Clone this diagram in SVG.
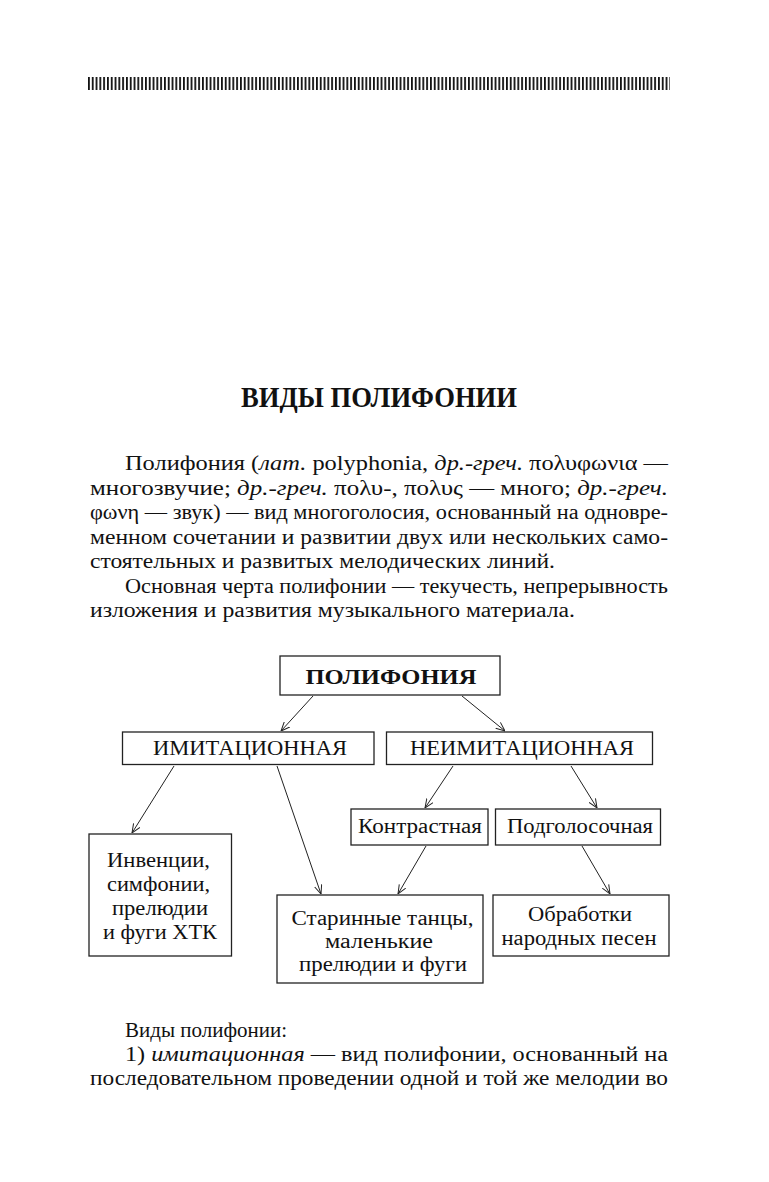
<svg xmlns="http://www.w3.org/2000/svg" width="769" height="1182" viewBox="0 0 769 1182">
<defs>
<pattern id="bars" x="88" y="0" width="3.8" height="20" patternUnits="userSpaceOnUse">
<rect x="0" y="0" width="1.8" height="20" fill="#111"/>
</pattern>
<marker id="arr" viewBox="0 0 10 10" refX="10" refY="5" markerWidth="9" markerHeight="9" markerUnits="userSpaceOnUse" orient="auto">
<path d="M0,0.8 L10,5 L0,9.2" fill="none" stroke="#222" stroke-width="1.1"/>
</marker>
</defs>
<style>
.t{font-family:"Liberation Serif","DejaVu Serif",serif;font-size:20.5px;fill:#111}
.i{font-style:italic}
.box{fill:#fff;stroke:#222;stroke-width:1.3}
.lbl{font-family:"Liberation Serif","DejaVu Serif",serif;font-size:20.5px;fill:#111;text-anchor:middle}
.c line{stroke:#222;stroke-width:1;marker-end:url(#arr)}
</style>
<rect width="769" height="1182" fill="#fff"/>
<rect x="88" y="77" width="582" height="13" fill="url(#bars)"/>

<text x="241" y="407" font-family="'Liberation Serif',serif" font-weight="bold" font-size="29" fill="#111" textLength="276" lengthAdjust="spacingAndGlyphs">ВИДЫ ПОЛИФОНИИ</text>

<g id="intro">
<text class="t" x="125" y="470" textLength="543" lengthAdjust="spacingAndGlyphs">Полифония (<tspan class="i">лат.</tspan> polyphonia, <tspan class="i">др.-греч.</tspan> πολυφωνια —</text>
<text class="t" x="90" y="494.5" textLength="578" lengthAdjust="spacingAndGlyphs">многозвучие; <tspan class="i">др.-греч.</tspan> πολυ-, πολυς — много; <tspan class="i">др.-греч.</tspan></text>
<text class="t" x="90" y="519" textLength="578" lengthAdjust="spacingAndGlyphs">φωνη — звук) — вид многоголосия, основанный на одновре-</text>
<text class="t" x="90" y="543.5" textLength="578" lengthAdjust="spacingAndGlyphs">менном сочетании и развитии двух или нескольких само-</text>
<text class="t" x="90" y="568" textLength="465" lengthAdjust="spacingAndGlyphs">стоятельных и развитых мелодических линий.</text>
<text class="t" x="125" y="592.5" textLength="543" lengthAdjust="spacingAndGlyphs">Основная черта полифонии — текучесть, непрерывность</text>
<text class="t" x="90" y="617" textLength="485" lengthAdjust="spacingAndGlyphs">изложения и развития музыкального материала.</text>
</g>

<g class="c" id="connectors">
<line x1="313" y1="696" x2="281" y2="731"/>
<line x1="462" y1="696" x2="505" y2="731"/>
<line x1="174" y1="766" x2="132" y2="833"/>
<line x1="277" y1="766" x2="321" y2="894"/>
<line x1="453" y1="766" x2="425" y2="808"/>
<line x1="571" y1="766" x2="597" y2="808"/>
<line x1="426" y1="846" x2="398" y2="894"/>
<line x1="582" y1="846" x2="610" y2="894"/>
</g>

<g id="n-polyphony">
<rect class="box" x="280" y="656" width="220" height="39"/>
<text class="lbl" x="391" y="684" font-weight="bold" font-size="24" textLength="171" lengthAdjust="spacingAndGlyphs">ПОЛИФОНИЯ</text>
</g>
<g id="n-imit">
<rect class="box" x="122.5" y="732" width="251.5" height="32.5"/>
<text class="lbl" x="250" y="755" textLength="194" lengthAdjust="spacingAndGlyphs">ИМИТАЦИОННАЯ</text>
</g>
<g id="n-neimit">
<rect class="box" x="386.5" y="732" width="266" height="32.5"/>
<text class="lbl" x="522" y="755" textLength="224" lengthAdjust="spacingAndGlyphs">НЕИМИТАЦИОННАЯ</text>
</g>
<g id="n-contrast">
<rect class="box" x="351" y="809" width="137" height="36"/>
<text class="lbl" x="420" y="833" textLength="124" lengthAdjust="spacingAndGlyphs">Контрастная</text>
</g>
<g id="n-podgol">
<rect class="box" x="495.5" y="809" width="165" height="36"/>
<text class="lbl" x="580" y="833" textLength="146" lengthAdjust="spacingAndGlyphs">Подголосочная</text>
</g>
<g id="n-invencii">
<rect class="box" x="89" y="834" width="142.5" height="122"/>
<text class="lbl" x="158.5" y="867" textLength="103" lengthAdjust="spacingAndGlyphs">Инвенции,</text>
<text class="lbl" x="158.5" y="891" textLength="103" lengthAdjust="spacingAndGlyphs">симфонии,</text>
<text class="lbl" x="160" y="915" textLength="96" lengthAdjust="spacingAndGlyphs">прелюдии</text>
<text class="lbl" x="160" y="939" textLength="114" lengthAdjust="spacingAndGlyphs">и фуги ХТК</text>
</g>
<g id="n-starinnye">
<rect class="box" x="277" y="895" width="206" height="88"/>
<text class="lbl" x="382.5" y="925" textLength="182" lengthAdjust="spacingAndGlyphs">Старинные танцы,</text>
<text class="lbl" x="379" y="948" textLength="108" lengthAdjust="spacingAndGlyphs">маленькие</text>
<text class="lbl" x="383" y="971" textLength="168" lengthAdjust="spacingAndGlyphs">прелюдии и фуги</text>
</g>
<g id="n-obrabotki">
<rect class="box" x="493" y="895" width="176" height="61"/>
<text class="lbl" x="580" y="921" textLength="104" lengthAdjust="spacingAndGlyphs">Обработки</text>
<text class="lbl" x="579" y="945" textLength="155" lengthAdjust="spacingAndGlyphs">народных песен</text>
</g>

<g id="outro">
<text class="t" x="125" y="1037" textLength="162" lengthAdjust="spacingAndGlyphs">Виды полифонии:</text>
<text class="t" x="125" y="1061" textLength="543" lengthAdjust="spacingAndGlyphs">1) <tspan class="i">имитационная</tspan> — вид полифонии, основанный на</text>
<text class="t" x="90" y="1085" textLength="578" lengthAdjust="spacingAndGlyphs">последовательном проведении одной и той же мелодии во</text>
</g>
</svg>
